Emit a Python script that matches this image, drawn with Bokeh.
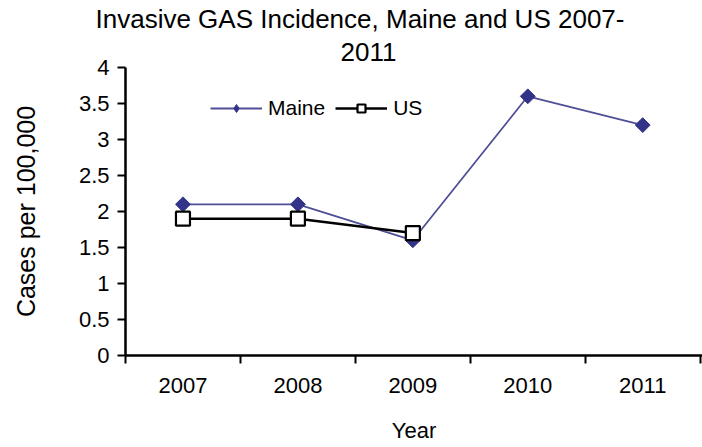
import math
from bokeh.plotting import figure
from bokeh.models import Range1d, FixedTicker, Legend, LegendItem, Title, ColumnDataSource
from bokeh.embed import file_html
from bokeh.resources import INLINE

years = ["2007", "2008", "2009", "2010", "2011"]
maine = [2.1, 2.1, 1.6, 3.6, 3.2]
us_years = ["2007", "2008", "2009"]
us = [1.9, 1.9, 1.7]
y_ticks = [0, 0.5, 1, 1.5, 2, 2.5, 3, 3.5, 4]
title_lines = ["Invasive GAS Incidence, Maine and US 2007-", "2011"]

FONT = "Liberation Sans"
pos = {y: i for i, y in enumerate(years)}

W, H = 702, 447
p = figure(width=W, height=H, output_backend="svg", toolbar_location=None,
           x_range=Range1d(-0.5, 4.52), y_range=Range1d(0, 4))
p.min_border_left = 125
p.min_border_top = 67
p.min_border_bottom = 92
p.min_border_right = 0
p.outline_line_color = None
p.grid.visible = False
p.background_fill_color = "white"
p.title.visible = False

xa = p.xaxis[0]
xa.ticker = FixedTicker(ticks=list(range(len(years))),
                        minor_ticks=[i - 0.5 for i in range(len(years) + 1)])
xa.major_label_overrides = {i: y for i, y in enumerate(years)}
xa.major_tick_out = 0
xa.major_tick_in = 0
xa.minor_tick_out = 8
xa.minor_tick_in = 0
xa.minor_tick_line_color = "black"
xa.minor_tick_line_width = 2
xa.axis_line_width = 2.5
xa.major_label_standoff = 14
xa.major_label_text_font = FONT
xa.major_label_text_font_size = "22px"
xa.major_label_text_color = "black"
xa.axis_label = "Year"
xa.axis_label_text_font = FONT
xa.axis_label_text_font_size = "22px"
xa.axis_label_text_font_style = "normal"
xa.axis_label_text_color = "black"
xa.axis_label_standoff = 22

ya = p.yaxis[0]
ya.ticker = FixedTicker(ticks=y_ticks, minor_ticks=[])
ya.major_label_overrides = {t: ("%g" % t) for t in y_ticks}
ya.major_tick_out = 8
ya.major_tick_in = 0
ya.major_tick_line_width = 2
ya.axis_line_width = 2.5
ya.major_label_standoff = 8
ya.major_label_text_font = FONT
ya.major_label_text_font_size = "22px"
ya.major_label_text_color = "black"
ya.axis_label = "Cases per 100,000"
ya.axis_label_text_font = FONT
ya.axis_label_text_font_size = "25px"
ya.axis_label_text_font_style = "normal"
ya.axis_label_text_color = "black"
ya.axis_label_standoff = 36

src_m = ColumnDataSource(dict(x=[pos[y] for y in years], y=maine))
src_u = ColumnDataSource(dict(x=[pos[y] for y in us_years], y=us))

MAINE_C = "#33338a"
ml = p.line("x", "y", source=src_m, line_color="#4f4f95", line_width=1.8)
mm = p.scatter("x", "y", source=src_m, marker="square", size=10.5, angle=math.pi / 4,
               fill_color=MAINE_C, line_color=MAINE_C)
ul = p.line("x", "y", source=src_u, line_color="black", line_width=2.5)
um = p.scatter("x", "y", source=src_u, marker="square", size=14,
               fill_color="white", line_color="black", line_width=2.2)
# legend-only diamond glyph (a single NaN point, never drawn in the plot)
leg_d = p.scatter(x=[float("nan")], y=[float("nan")], marker="diamond", size=17,
                  fill_color=MAINE_C, line_color=MAINE_C)

legend = Legend(items=[LegendItem(label="Maine", renderers=[ml, leg_d]),
                       LegendItem(label="US", renderers=[ul, um])],
                orientation="horizontal", location=(85, 235),
                padding=0, margin=0, spacing=10, glyph_width=52, glyph_height=20,
                label_standoff=6, label_text_font=FONT, label_text_font_size="21px",
                label_text_color="black",
                border_line_alpha=0, background_fill_alpha=0)
p.add_layout(legend, "center")

# title: first added sits closest to the frame
offsets = [-30, 215]
standoffs = [1, 13]
for t, off, so in reversed(list(zip(title_lines, offsets, standoffs))):
    p.add_layout(Title(text=t, align="left", offset=off, standoff=so,
                       text_font=FONT, text_font_size="26px", text_font_style="normal",
                       text_color="black"), "above")

open("out.html", "w").write(file_html(p, INLINE))
